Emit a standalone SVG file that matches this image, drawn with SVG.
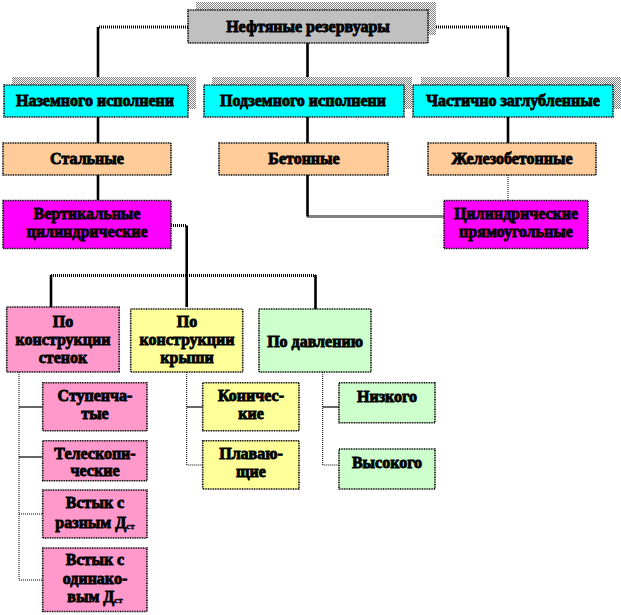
<svg xmlns="http://www.w3.org/2000/svg" width="621" height="615" viewBox="0 0 621 615">
<defs>
<pattern id="chk" patternUnits="userSpaceOnUse" width="2" height="2">
<rect x="0" y="0" width="2" height="2" fill="#fff"/>
<rect x="0" y="0" width="1" height="1" fill="#808080"/>
<rect x="1" y="1" width="1" height="1" fill="#808080"/>
</pattern>
</defs>
<style>
text{font-family:"Liberation Serif","Times New Roman",serif;font-weight:bold;font-size:16px;fill:#000;stroke:#000;stroke-width:0.85;text-anchor:middle}
.sub{font-size:9px;stroke-width:0.4}
.box{stroke:#000;stroke-width:1.6;stroke-dasharray:1 0.7}
.sh{fill:url(#chk);stroke:none}
.v{stroke:#000;stroke-width:2.6;fill:none}
.h{stroke:#000;stroke-width:3;stroke-dasharray:1 1;fill:none}
.d{stroke:#000;stroke-width:1;stroke-dasharray:1 1;fill:none}
.s{stroke:#000;stroke-width:1.2;fill:none}
</style>
<rect width="621" height="615" fill="#fff"/>
<g id="connectors">
<path class="h" d="M188 27H98"/>
<path class="v" d="M98 27V85"/>
<path class="h" d="M428 27H508"/>
<path class="v" d="M508 27V85"/>
<path class="v" d="M307.5 43V85"/>
<path class="v" d="M98 117V143"/>
<path class="v" d="M307.5 117V143"/>
<path class="v" d="M508 117V143"/>
<path class="v" d="M98 175V200"/>
<path class="d" d="M508 175V200"/>
<path class="v" d="M307.5 175V216.5"/>
<path class="h" d="M307.5 216.5H444"/>
<path class="h" d="M171 225.5H186.7"/>
<path class="v" d="M186.7 225.5V307"/>
<path class="h" d="M51 275.5H315.5"/>
<path class="v" d="M51 275V307"/>
<path class="v" d="M315.5 275V309"/>
<path class="d" d="M19 372V580"/>
<path class="s" d="M19 407H42.7"/>
<path class="s" d="M19 457H42.7"/>
<path class="d" d="M19 514H42.7"/>
<path class="d" d="M19 580H42.7"/>
<path class="d" d="M186.7 372V465H202.7"/>
<path class="s" d="M186.7 407H202.7"/>
<path class="d" d="M322.7 372V465H339"/>
<path class="s" d="M322.7 407H339"/>
</g>
<g id="n-root">
<rect class="sh" x="196" y="2" width="240" height="33"/>
<rect class="box" x="188" y="10" width="240" height="33" fill="#c0c0c0"/>
<text x="308" y="32">Нефтяные резервуары</text>
</g>
<g id="n-nazemn">
<rect class="sh" x="12" y="77" width="184" height="32"/>
<rect class="box" x="4" y="85" width="184" height="32" fill="#00ffff"/>
<text x="95" y="106">Наземного исполнени</text>
</g>
<g id="n-podzemn">
<rect class="sh" x="212" y="77" width="200" height="32"/>
<rect class="box" x="204" y="85" width="200" height="32" fill="#00ffff"/>
<text x="303" y="106">Подземного исполнени</text>
</g>
<g id="n-chastichno">
<rect class="sh" x="421" y="77" width="200" height="32"/>
<rect class="box" x="413" y="85" width="200" height="32" fill="#00ffff"/>
<text x="513" y="106">Частично заглубленные</text>
</g>
<g id="n-stalnye">
<rect class="box" x="3" y="143" width="168" height="32" fill="#ffcc99"/>
<text x="87" y="164">Стальные</text>
</g>
<g id="n-betonnye">
<rect class="box" x="219" y="143" width="169" height="32" fill="#ffcc99"/>
<text x="304" y="164">Бетонные</text>
</g>
<g id="n-zhelezobeton">
<rect class="box" x="428" y="143" width="168" height="32" fill="#ffcc99"/>
<text x="512" y="164">Железобетонные</text>
</g>
<g id="n-vertikalnye">
<rect class="box" x="3" y="200.5" width="168" height="48" fill="#ff00ff"/>
<text x="87" y="219">Вертикальные</text>
<text x="87" y="237">цилиндрические</text>
</g>
<g id="n-cilindr">
<rect class="box" x="444" y="200.5" width="144" height="48" fill="#ff00ff"/>
<text x="516" y="219">Цилиндрические</text>
<text x="516" y="237">прямоугольные</text>
</g>
<g id="n-steny">
<rect class="box" x="6.7" y="307" width="112.5" height="65" fill="#ff99cc"/>
<text x="63" y="327">По</text>
<text x="63" y="345">конструкции</text>
<text x="63" y="363">стенок</text>
</g>
<g id="n-krysha">
<rect class="box" x="130.7" y="309" width="112" height="63" fill="#ffff99"/>
<text x="187" y="327">По</text>
<text x="187" y="345">конструкции</text>
<text x="187" y="363">крыши</text>
</g>
<g id="n-davlenie">
<rect class="box" x="259" y="309" width="112" height="63" fill="#ccffcc"/>
<text x="315" y="347">По давлению</text>
</g>
<g id="n-stupen">
<rect class="box" x="42.7" y="382.7" width="104.3" height="48" fill="#ff99cc"/>
<text x="95" y="401">Ступенча-</text>
<text x="95" y="419">тые</text>
</g>
<g id="n-teleskop">
<rect class="box" x="42.7" y="440.7" width="104.3" height="40" fill="#ff99cc"/>
<text x="95" y="459">Телескопи-</text>
<text x="95" y="476">ческие</text>
</g>
<g id="n-vstyk-razn">
<rect class="box" x="42.7" y="490" width="104.3" height="48" fill="#ff99cc"/>
<text x="95" y="508">Встык с</text>
<text x="95" y="528">разным Д<tspan class="sub" dy="1">ст</tspan></text>
</g>
<g id="n-vstyk-odin">
<rect class="box" x="42.7" y="548" width="104.3" height="63.5" fill="#ff99cc"/>
<text x="95" y="565">Встык с</text>
<text x="95" y="584">одинако-</text>
<text x="95" y="602">вым Д<tspan class="sub" dy="1">ст</tspan></text>
</g>
<g id="n-konich">
<rect class="box" x="202.7" y="382.7" width="96.3" height="48" fill="#ffff99"/>
<text x="251" y="401">Коничес-</text>
<text x="251" y="419">кие</text>
</g>
<g id="n-plavay">
<rect class="box" x="202.7" y="440.7" width="96.3" height="48.3" fill="#ffff99"/>
<text x="251" y="459">Плаваю-</text>
<text x="251" y="477">щие</text>
</g>
<g id="n-nizkogo">
<rect class="box" x="339" y="382.7" width="96" height="40" fill="#ccffcc"/>
<text x="387" y="402">Низкого</text>
</g>
<g id="n-vysokogo">
<rect class="box" x="339" y="449" width="96" height="40" fill="#ccffcc"/>
<text x="387" y="468">Высокого</text>
</g>
</svg>
